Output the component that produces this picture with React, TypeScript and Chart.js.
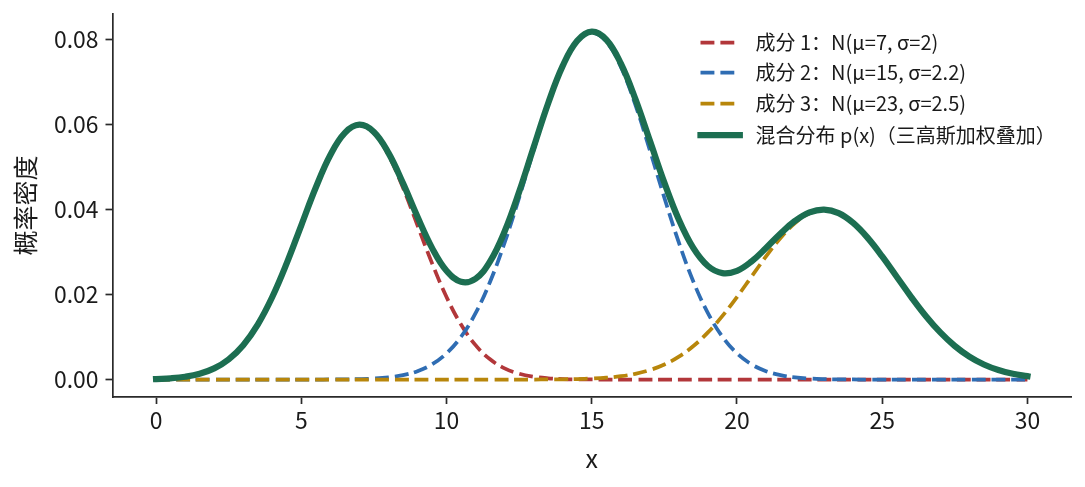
import React, { useEffect, useRef } from 'react';
import { Chart, registerables } from 'chart.js';

Chart.register(...registerables);

const FONT = '"Noto Sans CJK SC", "Noto Sans", sans-serif';

const xValues = [
  0, 0.5, 1, 1.5, 2, 2.5, 3, 3.5, 4, 4.5, 5, 5.5, 6, 6.5, 7, 7.5, 8, 8.5, 9, 9.5,
  10, 10.5, 11, 11.5, 12, 12.5, 13, 13.5, 14, 14.5, 15, 15.5, 16, 16.5, 17, 17.5, 18, 18.5, 19, 19.5,
  20, 20.5, 21, 21.5, 22, 22.5, 23, 23.5, 24, 24.5, 25, 25.5, 26, 26.5, 27, 27.5, 28, 28.5, 29, 29.5, 30,
];

const component1 = [
  0.000131, 0.000304, 0.000665, 0.001364, 0.002629, 0.004761, 0.008099, 0.012942, 0.019428, 0.027398,
  0.036296, 0.045170, 0.052810, 0.058000, 0.059841, 0.058000, 0.052810, 0.045170, 0.036296, 0.027398,
  0.019428, 0.012942, 0.008099, 0.004761, 0.002629, 0.001364, 0.000665, 0.000304, 0.000131, 0.000053,
  0.000020, 0.000007, 0.000002, 0.000001, 0, 0, 0, 0, 0, 0,
  0, 0, 0, 0, 0, 0, 0, 0, 0, 0,
  0, 0, 0, 0, 0, 0, 0, 0, 0, 0, 0,
];

const component2 = [
  0, 0, 0, 0, 0, 0, 0, 0, 0, 0.000001,
  0.000003, 0.000007, 0.000019, 0.000047, 0.000110, 0.000244, 0.000517, 0.001038, 0.001980, 0.003585,
  0.006167, 0.010073, 0.015626, 0.023020, 0.032204, 0.042785, 0.053981, 0.064677, 0.073592, 0.079521,
  0.081601, 0.079521, 0.073592, 0.064677, 0.053981, 0.042785, 0.032204, 0.023020, 0.015626, 0.010073,
  0.006167, 0.003585, 0.001980, 0.001038, 0.000517, 0.000244, 0.000110, 0.000047, 0.000019, 0.000007,
  0.000003, 0.000001, 0, 0, 0, 0, 0, 0, 0, 0, 0,
];

const component3 = [
  0, 0, 0, 0, 0, 0, 0, 0, 0, 0,
  0, 0, 0, 0, 0, 0, 0, 0, 0, 0,
  0, 0, 0, 0.000001, 0.000003, 0.000006, 0.000013, 0.000029, 0.000061, 0.000123,
  0.000238, 0.000443, 0.000792, 0.001358, 0.002239, 0.003547, 0.005399, 0.007895, 0.011092, 0.014973,
  0.019419, 0.024197, 0.028969, 0.033322, 0.036827, 0.039104, 0.039894, 0.039104, 0.036827, 0.033322,
  0.028969, 0.024197, 0.019419, 0.014973, 0.011092, 0.007895, 0.005399, 0.003547, 0.002239, 0.001358, 0.000792,
];

const mixture = [
  0.000131, 0.000304, 0.000665, 0.001364, 0.002629, 0.004761, 0.008099, 0.012942, 0.019428, 0.027399,
  0.036299, 0.045177, 0.052829, 0.058047, 0.059951, 0.058244, 0.053327, 0.046208, 0.038276, 0.030983,
  0.025595, 0.023015, 0.023725, 0.027782, 0.034836, 0.044155, 0.054659, 0.065010, 0.073784, 0.079697,
  0.081859, 0.079971, 0.074386, 0.066036, 0.056220, 0.046332, 0.037603, 0.030915, 0.026718, 0.025046,
  0.025586, 0.027782, 0.030949, 0.034360, 0.037344, 0.039348, 0.040004, 0.039151, 0.036846, 0.033329,
  0.028972, 0.024198, 0.019419, 0.014973, 0.011092, 0.007895, 0.005399, 0.003547, 0.002239, 0.001358, 0.000792,
];

const xTicks = [0, 5, 10, 15, 20, 25, 30];
const yTicks = [0, 0.02, 0.04, 0.06, 0.08];

const seriesLabels = [
  '成分 1：N(μ=7, σ=2)',
  '成分 2：N(μ=15, σ=2.2)',
  '成分 3：N(μ=23, σ=2.5)',
  '混合分布 p(x)（三高斯加权叠加）',
];
const xTitle = 'x';
const yTitle = '概率密度';

const COLORS = ['#b2373a', '#2f6db3', '#b8860b', '#1c6e51'];
const DASHED_W = 3.75;
const DASH = [13.9, 6];
const SOLID_W = 6.25;

const toPoints = (ys: number[]) => ys.map((y, i) => ({ x: xValues[i], y }));

const decorPlugin = {
  id: 'decor',
  afterDraw(chart: any) {
    const ctx: CanvasRenderingContext2D = chart.ctx;
    const { left, right, top, bottom } = chart.chartArea;
    ctx.save();
    ctx.fillStyle = '#1a1a1a';
    ctx.font = `25px ${FONT}`;
    ctx.textAlign = 'center';
    ctx.textBaseline = 'middle';
    ctx.fillText(xTitle, (left + right) / 2, 458);
    ctx.save();
    ctx.translate(25.5, (top + bottom) / 2);
    ctx.rotate(-Math.PI / 2);
    ctx.fillText(yTitle, 0, 0);
    ctx.restore();

    // legend
    const rowY = [42.5, 72.5, 103.5, 135];
    const x0 = 700.5;
    const x1 = 739.8;
    const tx = 755.5;
    ctx.font = `20px ${FONT}`;
    ctx.textAlign = 'left';
    ctx.textBaseline = 'middle';
    chart.data.datasets.forEach((ds: any, i: number) => {
      const y = rowY[i];
      ctx.save();
      ctx.strokeStyle = ds.borderColor;
      ctx.lineWidth = ds.borderWidth;
      ctx.setLineDash(ds.borderDash || []);
      ctx.lineCap = ds.borderDash && ds.borderDash.length ? 'butt' : 'square';
      ctx.beginPath();
      ctx.moveTo(x0, y);
      ctx.lineTo(x1, y);
      ctx.stroke();
      ctx.restore();
      ctx.fillStyle = '#1a1a1a';
      ctx.fillText(ds.label, tx, y);
    });
    ctx.restore();
  },
};

export default function App() {
  const ref = useRef<HTMLCanvasElement>(null);
  useEffect(() => {
    document.body.style.margin = '0';
    const series = [component1, component2, component3];
    const datasets: any[] = series.map((s, i) => ({
      label: seriesLabels[i],
      data: toPoints(s),
      borderColor: COLORS[i],
      backgroundColor: COLORS[i],
      borderWidth: DASHED_W,
      borderDash: DASH,
      borderCapStyle: 'butt',
      pointRadius: 0,
      fill: false,
      tension: 0.4,
      order: 3 - i,
    }));
    datasets.push({
      label: seriesLabels[3],
      data: toPoints(mixture),
      borderColor: COLORS[3],
      backgroundColor: COLORS[3],
      borderWidth: SOLID_W,
      borderCapStyle: 'square',
      borderJoinStyle: 'round',
      pointRadius: 0,
      fill: false,
      tension: 0.4,
      order: 0,
    });

    const axisColor = '#2a2a2a';
    const chart = new Chart(ref.current as HTMLCanvasElement, {
      type: 'line',
      data: { datasets },
      plugins: [decorPlugin],
      options: {
        animation: false,
        responsive: false,
        devicePixelRatio: 1,
        layout: { padding: { top: 14, right: 14, left: 0, bottom: 0 } },
        plugins: { legend: { display: false }, tooltip: { enabled: false } },
        scales: {
          x: {
            type: 'linear',
            min: -1.5,
            max: 31.5,
            afterBuildTicks: (s: any) => {
              s.ticks = xTicks.map((v) => ({ value: v }));
            },
            afterFit: (s: any) => {
              s.height = 90;
              s.paddingLeft = 0;
              s.paddingRight = 0;
            },
            grid: {
              display: true,
              drawOnChartArea: false,
              drawTicks: true,
              tickLength: 7,
              tickColor: axisColor,
              tickWidth: 1.7,
            },
            border: { display: true, color: axisColor, width: 1.7 },
            ticks: {
              color: '#1a1a1a',
              font: { family: FONT, size: 22.9 },
              padding: 3,
              maxRotation: 0,
              autoSkip: false,
              callback: (v: any) => String(v),
            },
          },
          y: {
            type: 'linear',
            min: -0.0041,
            max: 0.086,
            afterBuildTicks: (s: any) => {
              s.ticks = yTicks.map((v) => ({ value: v }));
            },
            afterFit: (s: any) => {
              s.width = 112.5;
              s.paddingTop = 0;
              s.paddingBottom = 0;
            },
            grid: {
              display: true,
              drawOnChartArea: false,
              drawTicks: true,
              tickLength: 7,
              tickColor: axisColor,
              tickWidth: 1.7,
            },
            border: { display: true, color: axisColor, width: 1.7 },
            ticks: {
              color: '#1a1a1a',
              font: { family: FONT, size: 22.9 },
              padding: 7,
              autoSkip: false,
              callback: (v: any) => Number(v).toFixed(2),
            },
          },
        },
      } as any,
    });
    return () => chart.destroy();
  }, []);
  return (
    <div style={{ width: 1085, height: 487, background: '#fff' }}>
      <canvas ref={ref} width={1085} height={487} style={{ display: 'block', width: 1085, height: 487 }} />
    </div>
  );
}
